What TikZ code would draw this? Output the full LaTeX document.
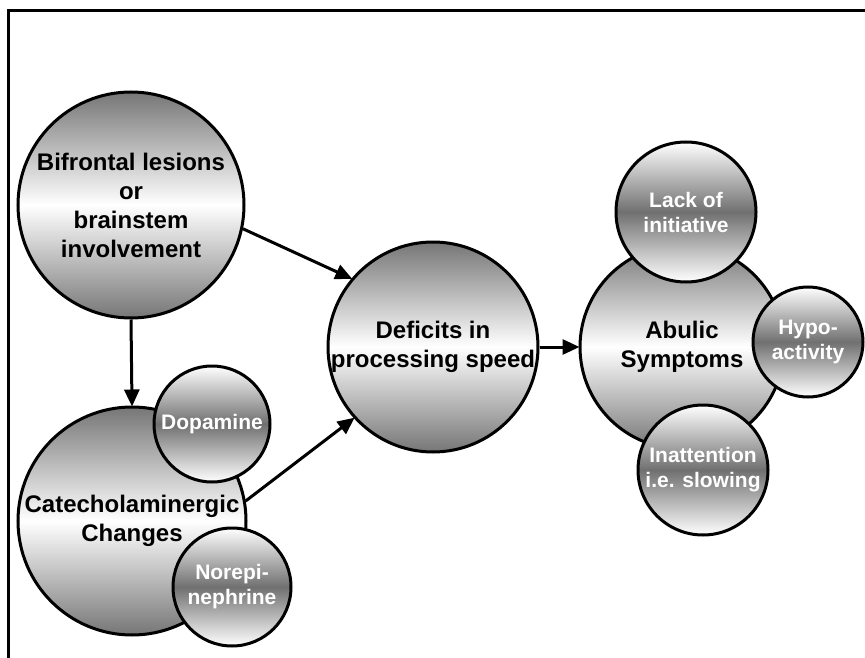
\documentclass[tikz,border=0pt]{standalone}
\usepackage{fontspec}
\setmainfont{Liberation Sans}
\usetikzlibrary{arrows.meta}
\definecolor{shgray}{RGB}{118,118,118}
\definecolor{smgray}{RGB}{112,112,112}
\begin{document}
\begin{tikzpicture}[x=1pt,y=-1pt,
  bigc/.style={circle, draw=black, line width=3pt, inner sep=0pt, align=center,
    top color=shgray, bottom color=shgray, middle color=white,
    text=black, font=\fontsize{24}{29}\selectfont\bfseries},
  smallc/.style={circle, draw=black, line width=3pt, inner sep=0pt, align=center,
    top color=white, bottom color=white, middle color=smgray,
    text=white, font=\fontsize{21}{25}\selectfont\bfseries},
  conn/.style={line width=3pt, -{Triangle[length=17pt,width=15pt]}, shorten >=-1pt}
]
\useasboundingbox (0,0) rectangle (865,658);
\draw[line width=3pt, line join=miter] (8,658) -- (8,11) -- (865,11);

\node[bigc, minimum size=226pt] (bif) at (131,205) {Bifrontal lesions\\or\\brainstem\\involvement};
\node[bigc, minimum size=228pt] (cat) at (132,521) {Catecholaminergic\\Changes};
\node[smallc, minimum size=116pt] (dop) at (212,424) {Dopamine};
\node[smallc, minimum size=118pt] (nor) at (232,587) {Norepi-\\nephrine};
\node[bigc, minimum size=210pt] (def) at (433,347) {Deficits in\\processing speed};
\node[bigc, minimum size=204pt] (abu) at (682,347) {Abulic\\Symptoms};
\node[smallc, minimum size=140pt] (lack) at (686,212) {Lack of\\initiative};
\node[smallc, minimum size=110pt] (hypo) at (808,342) {Hypo-\\activity};
\node[smallc, minimum size=130pt] (inat) at (703,470) {Inattention\\i.e. slowing};

\draw[conn] (bif.south) -- (cat.north);
\draw[conn] (bif.-12) -- (def.140);
\draw[conn] (cat.10) -- (def.222);
\draw[conn] (def.east) -- (abu.west);
\end{tikzpicture}
\end{document}
